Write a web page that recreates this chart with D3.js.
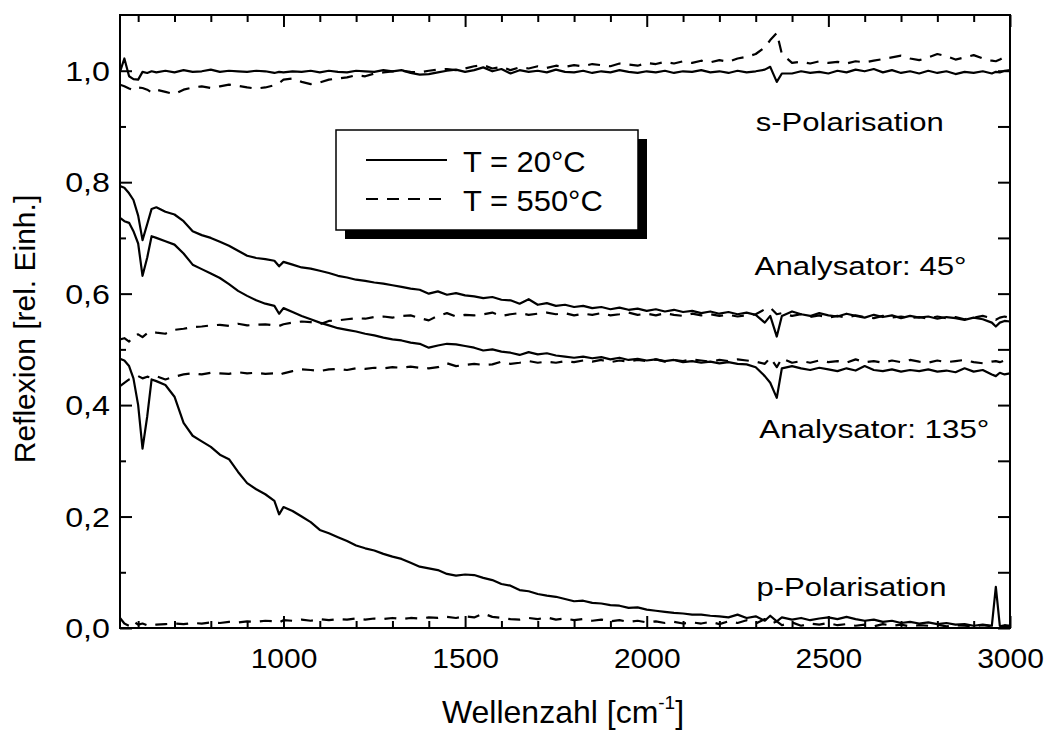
<!DOCTYPE html>
<html>
<head>
<meta charset="utf-8">
<script src="https://cdn.jsdelivr.net/npm/d3@7"></script>
<style>
  body { margin: 0; background: #fff; }
  svg { display: block; }
  text { font-family: "Liberation Sans", Arial, Helvetica, sans-serif; fill: #000; }
</style>
</head>
<body>
<svg id="chart" width="1046" height="731"></svg>
<script>
// Wavenumber grid (cm^-1) shared by all spectra
const wavenumbers = [
  550, 562, 575, 587, 600, 612, 625, 637, 650,
  675, 700, 725, 750, 775, 800, 825, 850, 875, 900, 925, 950, 975,
  988, 1000, 1025, 1050, 1075, 1100, 1125, 1150, 1175, 1200, 1225, 1250, 1275, 1300,
  1325, 1350, 1375, 1400, 1425, 1450, 1475, 1500, 1525, 1550, 1575, 1600, 1625,
  1650, 1675, 1700, 1725, 1750, 1775, 1800, 1825, 1850, 1875, 1900, 1925, 1950,
  1975, 2000, 2025, 2050, 2075, 2100, 2125, 2150, 2175, 2200, 2225, 2250, 2275, 2300,
  2325, 2340, 2358, 2372,
  2400, 2425, 2450, 2475, 2500, 2525, 2550, 2575, 2600, 2625, 2650, 2675, 2700,
  2725, 2750, 2775, 2800, 2825, 2850, 2875, 2900, 2925, 2950,
  2961, 2972, 2985, 3000
];

// s-polarisation
const sPol20 = [
  0.998, 1.022, 0.990, 0.985, 0.984, 0.998, 0.996, 0.999, 0.997,
  1.000, 0.997, 1.001, 0.998, 0.999, 1.002, 0.998, 1.000, 0.999, 0.998, 1.000, 0.999, 0.996,
  0.998, 0.997, 0.999, 0.998, 1.000, 0.997, 1.000, 0.998, 0.997, 1.000, 0.999, 0.998, 1.001, 0.999,
  1.001, 0.996, 0.993, 0.994, 0.997, 1.000, 1.002, 0.998, 1.001, 1.006, 0.999, 1.003, 0.995,
  1.001, 0.998, 1.000, 0.997, 1.002, 0.998, 0.997, 1.000, 0.996, 0.999, 0.997, 1.001, 0.998,
  0.996, 0.999, 0.997, 1.000, 0.996, 0.999, 0.998, 1.001, 0.997, 0.999, 0.996, 1.000, 0.997, 0.999,
  1.002, 1.007, 0.980, 0.995,
  0.995, 0.999, 0.996, 0.998, 0.995, 1.000, 0.997, 1.002, 0.999, 1.003, 0.997, 1.001, 0.996,
  0.999, 0.995, 1.000, 0.996, 0.999, 0.994, 0.998, 0.996, 0.999, 0.995,
  0.998, 0.997, 1.000, 1.001
];
const sPol550 = [
  0.975, 0.972, 0.968, 0.965, 0.970, 0.969, 0.966, 0.961, 0.966,
  0.962, 0.958, 0.966, 0.970, 0.972, 0.969, 0.972, 0.975, 0.973, 0.970, 0.968, 0.970, 0.974,
  0.978, 0.984, 0.986, 0.980, 0.976, 0.979, 0.984, 0.986, 0.988, 0.992, 0.990, 0.995, 0.997, 0.999,
  1.000, 0.998, 0.997, 1.000, 1.002, 1.003, 1.001, 1.004, 1.008, 1.010, 1.004, 1.007, 1.001,
  1.006, 1.004, 1.008, 1.005, 1.009, 1.007, 1.010, 1.008, 1.012, 1.010, 1.008, 1.013, 1.011,
  1.009, 1.014, 1.012, 1.016, 1.013, 1.017, 1.014, 1.018, 1.015, 1.019, 1.016, 1.022, 1.025, 1.030,
  1.042, 1.055, 1.068, 1.030,
  1.014, 1.016, 1.013, 1.017, 1.014, 1.016, 1.013, 1.017, 1.015, 1.018, 1.021, 1.024, 1.027,
  1.022, 1.019, 1.024, 1.030, 1.026, 1.020, 1.024, 1.028, 1.022, 1.018,
  1.017, 1.020, 1.025, 1.027
];

// Analysator 45°
const ana45_20 = [
  0.793, 0.790, 0.780, 0.768, 0.740, 0.696, 0.725, 0.752, 0.755,
  0.747, 0.742, 0.730, 0.712, 0.705, 0.700, 0.693, 0.686, 0.677, 0.668, 0.664, 0.662, 0.659,
  0.649, 0.657, 0.652, 0.647, 0.645, 0.641, 0.637, 0.632, 0.629, 0.625, 0.623, 0.620, 0.618, 0.615,
  0.612, 0.609, 0.607, 0.600, 0.604, 0.598, 0.601, 0.597, 0.595, 0.592, 0.594, 0.589, 0.588,
  0.582, 0.590, 0.580, 0.583, 0.578, 0.580, 0.576, 0.578, 0.574, 0.576, 0.572, 0.575, 0.571,
  0.573, 0.569, 0.572, 0.568, 0.571, 0.567, 0.569, 0.565, 0.568, 0.564, 0.567, 0.563, 0.566, 0.562,
  0.548, 0.560, 0.523, 0.560,
  0.568, 0.563, 0.560, 0.565, 0.561, 0.559, 0.564, 0.560, 0.557, 0.562, 0.558, 0.561, 0.556,
  0.560, 0.557, 0.559, 0.555, 0.558, 0.556, 0.553, 0.557, 0.554, 0.548,
  0.541, 0.548, 0.551, 0.550
];
const ana45_550 = [
  0.518, 0.520, 0.514, 0.524, 0.527, 0.522, 0.529, 0.532, 0.530,
  0.528, 0.535, 0.537, 0.540, 0.541, 0.543, 0.544, 0.542, 0.546, 0.543, 0.544, 0.545, 0.543,
  0.542, 0.545, 0.548, 0.550, 0.549, 0.545, 0.551, 0.552, 0.554, 0.556, 0.555, 0.558, 0.559, 0.557,
  0.560, 0.561, 0.556, 0.552, 0.560, 0.565, 0.559, 0.562, 0.561, 0.563, 0.566, 0.560, 0.563,
  0.565, 0.562, 0.564, 0.566, 0.563, 0.565, 0.561, 0.564, 0.562, 0.565, 0.561, 0.563, 0.566,
  0.562, 0.564, 0.561, 0.565, 0.562, 0.560, 0.564, 0.561, 0.563, 0.560, 0.562, 0.559, 0.561, 0.563,
  0.572, 0.575, 0.563, 0.565,
  0.560, 0.563, 0.558, 0.561, 0.557, 0.560, 0.557, 0.561, 0.558, 0.556, 0.560, 0.557, 0.559,
  0.556, 0.558, 0.555, 0.559, 0.556, 0.558, 0.554, 0.557, 0.560, 0.556,
  0.553, 0.557, 0.559, 0.556
];

// Analysator 135°
const ana135_20 = [
  0.736, 0.730, 0.727, 0.712, 0.690, 0.632, 0.665, 0.703, 0.700,
  0.694, 0.688, 0.672, 0.652, 0.644, 0.636, 0.628, 0.617, 0.605, 0.596, 0.588, 0.582, 0.578,
  0.564, 0.574, 0.567, 0.560, 0.554, 0.548, 0.543, 0.538, 0.535, 0.532, 0.528, 0.525, 0.521, 0.518,
  0.516, 0.512, 0.510, 0.503, 0.507, 0.510, 0.509, 0.506, 0.503, 0.498, 0.500, 0.496, 0.494,
  0.490, 0.495, 0.491, 0.493, 0.489, 0.487, 0.485, 0.487, 0.484, 0.486, 0.482, 0.485, 0.481,
  0.483, 0.480, 0.482, 0.479, 0.481, 0.477, 0.479, 0.476, 0.478, 0.475, 0.477, 0.474, 0.473, 0.468,
  0.452, 0.440, 0.413, 0.466,
  0.470, 0.466, 0.463, 0.467, 0.464, 0.461, 0.466, 0.462, 0.470, 0.463, 0.461, 0.464, 0.460,
  0.463, 0.461, 0.464, 0.460, 0.462, 0.459, 0.466, 0.460, 0.463, 0.455,
  0.452, 0.458, 0.455, 0.457
];
const ana135_550 = [
  0.434, 0.440, 0.446, 0.449, 0.452, 0.448, 0.451, 0.449, 0.452,
  0.446, 0.451, 0.455, 0.457, 0.455, 0.458, 0.457, 0.456, 0.459, 0.457, 0.458, 0.456, 0.457,
  0.454, 0.457, 0.461, 0.464, 0.463, 0.461, 0.464, 0.465, 0.463, 0.466, 0.465, 0.467, 0.466, 0.468,
  0.467, 0.469, 0.467, 0.466, 0.468, 0.475, 0.470, 0.472, 0.474, 0.472, 0.473, 0.478, 0.474,
  0.476, 0.479, 0.476, 0.478, 0.476, 0.479, 0.477, 0.480, 0.478, 0.481, 0.477, 0.480, 0.478,
  0.481, 0.479, 0.482, 0.478, 0.481, 0.479, 0.482, 0.480, 0.478, 0.481, 0.479, 0.482, 0.480, 0.478,
  0.474, 0.485, 0.468, 0.484,
  0.476, 0.479, 0.476, 0.480, 0.477, 0.479, 0.476, 0.482, 0.477, 0.479, 0.476, 0.480, 0.477,
  0.481, 0.478, 0.476, 0.480, 0.477, 0.479, 0.481, 0.477, 0.475, 0.478,
  0.479, 0.477, 0.480, 0.478
];

// p-polarisation
const pPol20 = [
  0.483, 0.480, 0.470, 0.448, 0.400, 0.322, 0.380, 0.446, 0.443,
  0.436, 0.415, 0.368, 0.345, 0.335, 0.325, 0.311, 0.303, 0.280, 0.260, 0.249, 0.240, 0.228,
  0.204, 0.217, 0.210, 0.200, 0.190, 0.176, 0.170, 0.163, 0.156, 0.148, 0.143, 0.139, 0.133, 0.128,
  0.124, 0.117, 0.110, 0.107, 0.104, 0.097, 0.094, 0.096, 0.095, 0.090, 0.086, 0.079, 0.076,
  0.068, 0.066, 0.061, 0.058, 0.056, 0.052, 0.048, 0.049, 0.045, 0.044, 0.041, 0.040, 0.036,
  0.037, 0.033, 0.031, 0.029, 0.027, 0.026, 0.024, 0.024, 0.022, 0.021, 0.019, 0.024, 0.018, 0.021,
  0.013, 0.022, 0.012, 0.019,
  0.015, 0.018, 0.014, 0.017, 0.019, 0.016, 0.020, 0.016, 0.013, 0.015, 0.011, 0.013, 0.009,
  0.011, 0.008, 0.010, 0.007, 0.009, 0.006, 0.007, 0.004, 0.006, 0.004,
  0.074, 0.004, 0.003, 0.004
];
const pPol550 = [
  0.018, 0.008, 0.004, 0.012, 0.006, 0.008, 0.005, 0.007, 0.006,
  0.007, 0.008, 0.007, 0.009, 0.008, 0.010, 0.009, 0.011, 0.010, 0.012, 0.011, 0.013, 0.012,
  0.010, 0.014, 0.013, 0.015, 0.013, 0.016, 0.014, 0.016, 0.015, 0.017, 0.015, 0.017, 0.016, 0.018,
  0.016, 0.018, 0.017, 0.019, 0.018, 0.020, 0.018, 0.021, 0.019, 0.026, 0.020, 0.018, 0.016,
  0.015, 0.018, 0.016, 0.019, 0.015, 0.017, 0.014, 0.016, 0.013, 0.015, 0.012, 0.014, 0.011,
  0.013, 0.010, 0.012, 0.009, 0.011, 0.008, 0.010, 0.008, 0.011, 0.007, 0.012, 0.009, 0.014, 0.008,
  0.016, 0.007, 0.012, 0.005,
  0.010, 0.004, 0.008, 0.006, 0.009, 0.005, 0.007, 0.004, 0.006, 0.003, 0.007, 0.004, 0.006,
  0.003, 0.005, 0.004, 0.006, 0.003, 0.005, 0.004, 0.003, 0.005, 0.003,
  0.004, 0.003, 0.005, 0.004
];

const xTickValues = [1000, 1500, 2000, 2500, 3000];
const yTickValues = [0, 0.2, 0.4, 0.6, 0.8, 1.0];
const legendLabels = ["T = 20°C", "T = 550°C"];
const curveLabels = ["s-Polarisation", "Analysator: 45°", "Analysator: 135°", "p-Polarisation"];

// ---------------------------------------------------------------
const svg = d3.select("#chart");
const W = 1046, H = 731;
const plot = { left: 120, right: 1010, top: 15, bottom: 628 };

svg.append("rect").attr("width", W).attr("height", H).attr("fill", "#fff");

const x = d3.scaleLinear().domain([550, 3000]).range([plot.left, plot.right]);
const y = d3.scaleLinear().domain([0, 1.1]).range([plot.bottom, plot.top]);

const de = d3.formatLocale({ decimal: ",", thousands: ".", grouping: [3], currency: ["", " €"] });
const fmtY = de.format(".1f");

// Stretch rendered text horizontally to a wider set
function widen(sel, factor) {
  sel.each(function () {
    const w = this.getComputedTextLength();
    this.setAttribute("textLength", (w * factor).toFixed(1));
    this.setAttribute("lengthAdjust", "spacingAndGlyphs");
  });
}

// Spectra
const spectra = [
  { values: sPol20, dashed: false }, { values: sPol550, dashed: true },
  { values: ana45_20, dashed: false }, { values: ana45_550, dashed: true },
  { values: ana135_20, dashed: false }, { values: ana135_550, dashed: true },
  { values: pPol20, dashed: false }, { values: pPol550, dashed: true }
];

svg.append("clipPath").attr("id", "plotClip")
  .append("rect")
  .attr("x", plot.left).attr("y", plot.top)
  .attr("width", plot.right - plot.left).attr("height", plot.bottom - plot.top);

const line = d3.line()
  .x((d, i) => x(wavenumbers[i]))
  .y(d => y(d));

const dashPattern = "12,9";

svg.append("g").attr("clip-path", "url(#plotClip)")
  .selectAll("path")
  .data(spectra)
  .join("path")
  .attr("d", d => line(d.values))
  .attr("fill", "none")
  .attr("stroke", "#000")
  .attr("stroke-width", 2.2)
  .attr("stroke-linejoin", "round")
  .attr("stroke-dasharray", d => d.dashed ? dashPattern : null);

// Axes (ticks pointing inwards on all four sides)
const xMinor = d3.range(600, 3000, 100).filter(v => v % 500 !== 0);
const yMinor = [0.1, 0.3, 0.5, 0.7, 0.9];
const yAll = d3.range(0, 11).map(i => i / 10);

function styleAxis(g) {
  g.select(".domain").remove();
  g.selectAll(".tick line").attr("stroke", "#000").attr("stroke-width", 2);
}

// bottom
const gBottom = svg.append("g").attr("transform", `translate(0,${plot.bottom})`)
  .call(d3.axisBottom(x).tickValues(xTickValues).tickSize(-12).tickPadding(20).tickFormat(d3.format("d")))
  .call(styleAxis);
gBottom.selectAll("text").attr("font-size", 28).attr("font-family", null);
svg.append("g").attr("transform", `translate(0,${plot.bottom})`)
  .call(d3.axisBottom(x).tickValues(xMinor).tickSize(-7).tickFormat(""))
  .call(styleAxis);

// top
svg.append("g").attr("transform", `translate(0,${plot.top})`)
  .call(d3.axisTop(x).tickValues(xTickValues).tickSize(-12).tickFormat(""))
  .call(styleAxis);
svg.append("g").attr("transform", `translate(0,${plot.top})`)
  .call(d3.axisTop(x).tickValues(xMinor).tickSize(-7).tickFormat(""))
  .call(styleAxis);

// left
const gLeft = svg.append("g").attr("transform", `translate(${plot.left},0)`)
  .call(d3.axisLeft(y).tickValues(yTickValues).tickSize(-12).tickPadding(10).tickFormat(fmtY))
  .call(styleAxis);
gLeft.selectAll("text").attr("font-size", 28).attr("font-family", null).attr("dy", "0.34em");
svg.append("g").attr("transform", `translate(${plot.left},0)`)
  .call(d3.axisLeft(y).tickValues(yMinor).tickSize(-6).tickFormat(""))
  .call(styleAxis);

// right
svg.append("g").attr("transform", `translate(${plot.right},0)`)
  .call(d3.axisRight(y).tickValues(yAll).tickSize(-12).tickFormat(""))
  .call(styleAxis);

// frame
svg.append("rect")
  .attr("x", plot.left).attr("y", plot.top)
  .attr("width", plot.right - plot.left).attr("height", plot.bottom - plot.top)
  .attr("fill", "none").attr("stroke", "#000").attr("stroke-width", 2);

widen(gBottom.selectAll("text"), 1.07);
widen(gLeft.selectAll("text"), 1.15);

// Axis titles
const xTitle = svg.append("text")
  .attr("x", (plot.left + plot.right) / 2 - 2).attr("y", 723)
  .attr("text-anchor", "middle").attr("font-size", 32);
xTitle.append("tspan").text("Wellenzahl [cm");
xTitle.append("tspan").attr("font-size", 19).attr("dy", -14).text("-1");
xTitle.append("tspan").attr("dy", 14).text("]");

const yTitle = svg.append("text")
  .attr("transform", `translate(35,329) rotate(-90)`)
  .attr("text-anchor", "middle").attr("font-size", 30)
  .text("Reflexion [rel. Einh.]");

// Curve labels, anchored in data coordinates
const labelPos = [
  { wn: 2300, v: 0.892 },
  { wn: 2297, v: 0.634 },
  { wn: 2310, v: 0.341 },
  { wn: 2302, v: 0.057 }
];
const labelWidths = [188, 212, 230, 190];
svg.append("g").selectAll("text")
  .data(curveLabels)
  .join("text")
  .attr("x", (d, i) => x(labelPos[i].wn))
  .attr("y", (d, i) => y(labelPos[i].v))
  .attr("font-size", 26)
  .text(d => d)
  .attr("textLength", (d, i) => labelWidths[i])
  .attr("lengthAdjust", "spacingAndGlyphs");

// Legend with drop shadow
const lg = svg.append("g");
const box = { x: 336, y: 130, w: 302, h: 100 };
lg.append("rect").attr("x", box.x + 9).attr("y", box.y + 9)
  .attr("width", box.w).attr("height", box.h).attr("fill", "#000");
lg.append("rect").attr("x", box.x).attr("y", box.y)
  .attr("width", box.w).attr("height", box.h)
  .attr("fill", "#fff").attr("stroke", "#000").attr("stroke-width", 1.5);

const entries = lg.selectAll("g.entry")
  .data(legendLabels)
  .join("g").attr("class", "entry")
  .attr("transform", (d, i) => `translate(0,${160 + i * 39})`);
entries.append("line")
  .attr("x1", 366).attr("x2", 447).attr("y1", 0).attr("y2", 0)
  .attr("stroke", "#000").attr("stroke-width", 2)
  .attr("stroke-dasharray", (d, i) => i === 1 ? dashPattern : null);
const legendText = entries.append("text")
  .attr("x", 463).attr("y", 11.5)
  .attr("font-size", 30)
  .text(d => d);
widen(legendText, 1.03);
</script>
</body>
</html>
